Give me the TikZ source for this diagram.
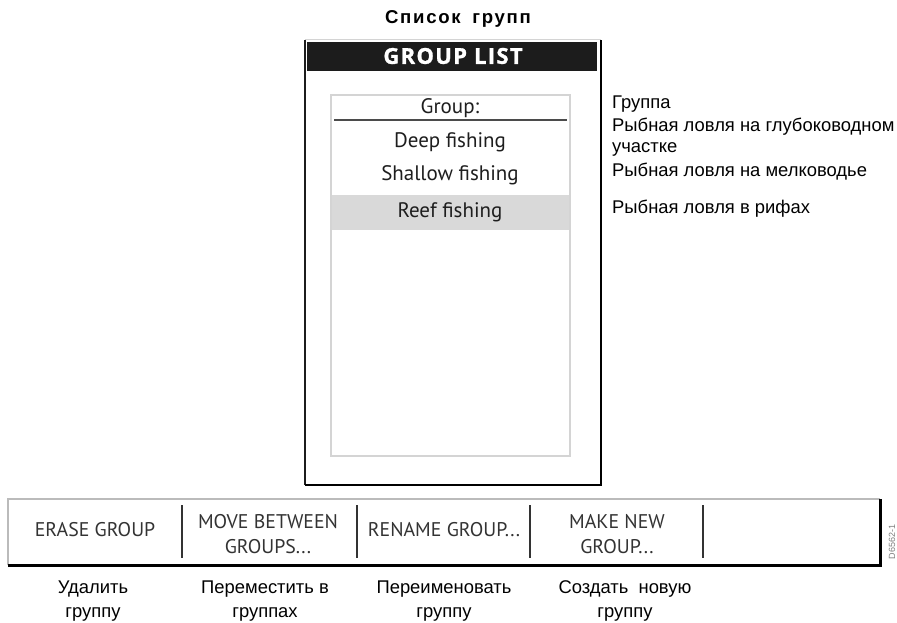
\documentclass[tikz,border=0pt]{standalone}
\usepackage{fontspec}
\setmainfont{Liberation Sans}
\newfontfamily\uifont{PT Sans}
\newfontfamily\hdrfont[LetterSpace=6,FakeBold=1.2]{Open Sans}
\newfontfamily\ttlfont[LetterSpace=9]{Liberation Sans}
\definecolor{ink}{HTML}{1E1E1E}
\definecolor{btn}{HTML}{333333}
\definecolor{lightframe}{HTML}{D4D4D4}
\definecolor{hilite}{HTML}{D9D9D9}
\definecolor{darkbar}{HTML}{1C1C1C}
\tikzset{
  uitext/.style={font=\uifont\fontsize{21}{23}\selectfont, text=ink, inner sep=0pt},
  btntext/.style={font=\uifont\fontsize{19.8}{25}\selectfont, text=btn, inner sep=0pt, align=center},
  rulabel/.style={font=\fontsize{18.4}{21}\selectfont, text=black, inner sep=0pt, anchor=west},
  rubottom/.style={font=\fontsize{18.4}{24}\selectfont, text=black, inner sep=0pt, align=center},
  divider/.style={line width=2pt, draw=btn},
}
\begin{document}
\begin{tikzpicture}[x=1pt,y=-1pt]
\useasboundingbox (0,0) rectangle (897,623);
\fill[white] (0,0) rectangle (897,623);
% title
\node[font=\ttlfont\bfseries\fontsize{18.6}{20}\selectfont, inner sep=0pt] (title) at (458,19) {Список\hspace{5pt} групп};
% outer panel
\coordinate (pTL) at (305,40);
\coordinate (pBR) at (601,485);
\draw[lightframe, line width=1pt] (pTL) -- (pTL -| pBR);
\draw[darkbar, line width=2pt] (pTL) -- (pTL |- pBR);
\draw[black, line width=2.5pt] (pTL |- pBR) -- (pBR) -- (pTL -| pBR);
% header bar
\fill[darkbar] (306.5,42) rectangle (597,71);
\node[font=\hdrfont\bfseries\fontsize{22}{23}\selectfont, text=white, inner sep=0pt] (hdr) at (453,56) {GROUP LIST};
% list box
\draw[lightframe, line width=1.2pt] (331,95) rectangle (570,456);
\node[uitext] (grp) at (450,108) {Group:};
\draw[ink!80, line width=1.2pt] (334,120) -- (567,120);
\node[uitext] (deep) at (450,142) {Deep fishing};
\node[uitext] (shallow) at (450,175) {Shallow fishing};
\fill[hilite] (332,195) rectangle (569,230);
\node[uitext] (reef) at (450,212) {Reef fishing};
% right labels
\node[rulabel] (l1) at (612,104) {Группа};
\node[rulabel] (l2) at (612,127) {Рыбная ловля на глубоководном};
\node[rulabel] (l3) at (612,149) {участке};
\node[rulabel] (l4) at (612,172) {Рыбная ловля на мелководье};
\node[rulabel] (l5) at (612,209) {Рыбная ловля в рифах};
% bottom softkey bar
\coordinate (bTL) at (8,499);
\coordinate (bBR) at (880,565);
\draw[lightframe!70!gray, line width=1.2pt] (bTL |- bBR) -- (bTL) -- (bTL -| bBR);
\draw[black, line width=3pt] (bTL |- bBR) -- (bBR) -- (bTL -| bBR);
\draw[divider] (182,505) -- (182,558);
\draw[divider] (357,505) -- (357,558);
\draw[divider] (530,505) -- (530,558);
\draw[divider] (703,505) -- (703,558);
\node[btntext] (b1) at (95,530) {ERASE GROUP};
\node[btntext] (b2) at (268,534) {MOVE BETWEEN\\GROUPS...};
\node[btntext] (b3) at (444,530) {RENAME GROUP...};
\node[btntext] (b4) at (617,534) {MAKE NEW\\GROUP...};
\node[font=\fontsize{9}{10}\selectfont, text=gray, rotate=90, inner sep=0pt] (code) at (892,542) {D6562-1};
% bottom labels
\node[rubottom] (r1) at (93,601) {Удалить\\группу};
\node[rubottom] (r2) at (265,601) {Переместить в\\группах};
\node[rubottom] (r3) at (444,601) {Переименовать\\группу};
\node[rubottom] (r4) at (625,601) {Создать\hspace{5pt} новую\\группу};
\end{tikzpicture}
\end{document}
